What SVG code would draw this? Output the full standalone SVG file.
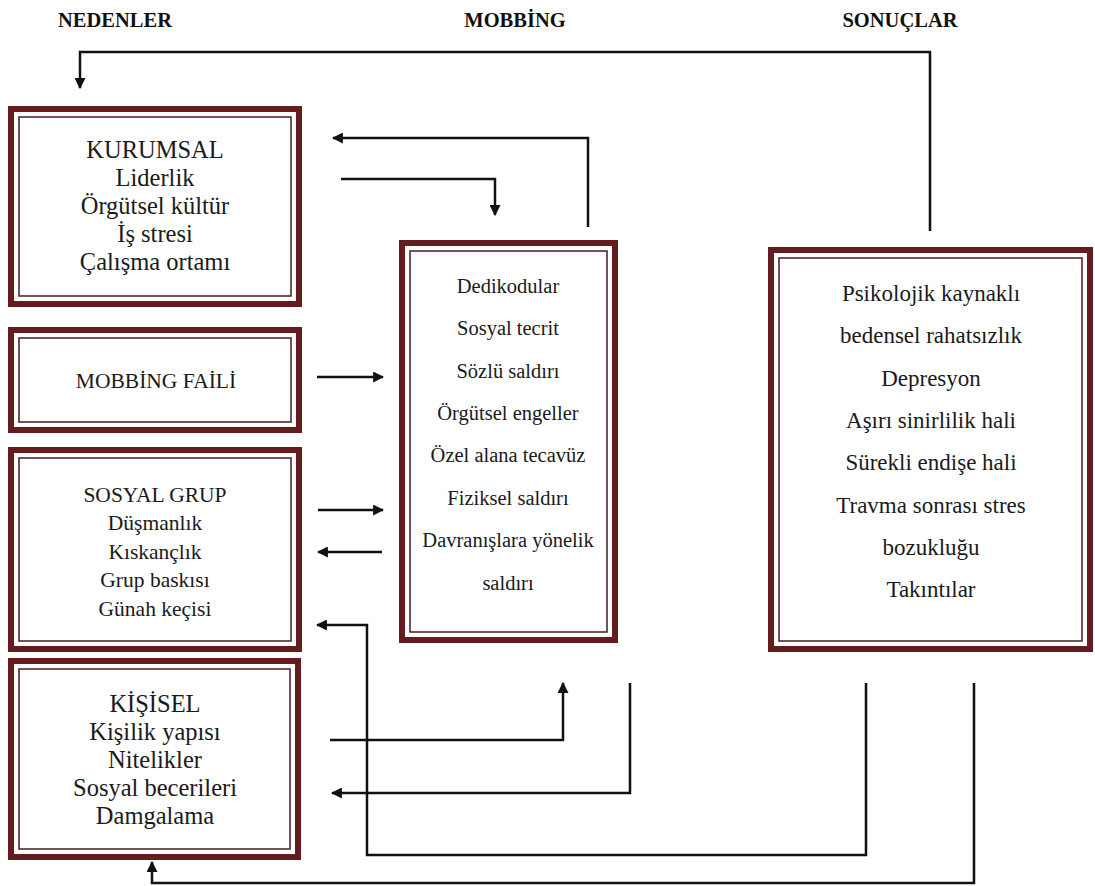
<svg xmlns="http://www.w3.org/2000/svg" width="1095" height="886" viewBox="0 0 1095 886">
<style>
.outer{fill:#fff;stroke:#641c1f;stroke-width:6}
.inner{fill:none;stroke:#4a1a1c;stroke-width:1.5}
.t{font-family:"Liberation Serif","Times New Roman",serif;font-size:21.5px;fill:#1a1a1a;text-anchor:middle}
.big{font-size:24.5px}
.mid{font-size:20.5px}
.rt{font-size:23px}
.h{font-family:"Liberation Serif","Times New Roman",serif;font-size:20.5px;font-weight:bold;fill:#111;text-anchor:middle}
.c{fill:none;stroke:#111;stroke-width:2.5;stroke-linejoin:miter}
</style>
<defs>
<marker id="ah" viewBox="0 0 10 10" refX="9" refY="5" markerWidth="11" markerHeight="11" markerUnits="userSpaceOnUse" orient="auto">
<path d="M0,0 L10,5 L0,10 z" fill="#111"/>
</marker>
</defs>
<rect width="1095" height="886" fill="#fff"/>
<g id="headers">
<text class="h" x="115" y="27">NEDENLER</text>
<text class="h" x="515" y="27">MOBBİNG</text>
<text class="h" x="900" y="27">SONUÇLAR</text>
</g>
<g id="kurumsal">
<rect class="outer" x="11" y="109" width="288" height="195"/>
<rect class="inner" x="19" y="117" width="272" height="179"/>
<text class="t big" x="155" y="158">KURUMSAL</text>
<text class="t big" x="155" y="186">Liderlik</text>
<text class="t big" x="155" y="214">Örgütsel kültür</text>
<text class="t big" x="155" y="242">İş stresi</text>
<text class="t big" x="155" y="270">Çalışma ortamı</text>
</g>
<g id="faili">
<rect class="outer" x="11" y="330" width="288" height="100"/>
<rect class="inner" x="19" y="338" width="272" height="84"/>
<text class="t" x="156" y="388">MOBBİNG FAİLİ</text>
</g>
<g id="sosyalgrup">
<rect class="outer" x="11" y="450" width="288" height="199"/>
<rect class="inner" x="19" y="458" width="272" height="183"/>
<text class="t" x="155" y="502">SOSYAL GRUP</text>
<text class="t" x="155" y="530">Düşmanlık</text>
<text class="t" x="155" y="559">Kıskançlık</text>
<text class="t" x="155" y="587">Grup baskısı</text>
<text class="t" x="155" y="616">Günah keçisi</text>
</g>
<g id="kisisel">
<rect class="outer" x="11" y="661" width="287" height="196"/>
<rect class="inner" x="19" y="669" width="271" height="180"/>
<text class="t big" x="155" y="712">KİŞİSEL</text>
<text class="t big" x="155" y="740">Kişilik yapısı</text>
<text class="t big" x="155" y="768">Nitelikler</text>
<text class="t big" x="155" y="796">Sosyal becerileri</text>
<text class="t big" x="155" y="824">Damgalama</text>
</g>
<g id="mobbing">
<rect class="outer" x="402" y="243" width="213" height="397"/>
<rect class="inner" x="410" y="251" width="197" height="381"/>
<text class="t mid" x="508" y="293">Dedikodular</text>
<text class="t mid" x="508" y="335">Sosyal tecrit</text>
<text class="t mid" x="508" y="378">Sözlü saldırı</text>
<text class="t mid" x="508" y="420">Örgütsel engeller</text>
<text class="t mid" x="508" y="462">Özel alana tecavüz</text>
<text class="t mid" x="508" y="505">Fiziksel saldırı</text>
<text class="t mid" x="508" y="547">Davranışlara yönelik</text>
<text class="t mid" x="508" y="590">saldırı</text>
</g>
<g id="sonuclar">
<rect class="outer" x="771" y="250" width="319" height="399"/>
<rect class="inner" x="779" y="258" width="303" height="383"/>
<text class="t rt" x="931" y="301">Psikolojik kaynaklı</text>
<text class="t rt" x="931" y="343">bedensel rahatsızlık</text>
<text class="t rt" x="931" y="386">Depresyon</text>
<text class="t rt" x="931" y="428">Aşırı sinirlilik hali</text>
<text class="t rt" x="931" y="470">Sürekli endişe hali</text>
<text class="t rt" x="931" y="513">Travma sonrası stres</text>
<text class="t rt" x="931" y="555">bozukluğu</text>
<text class="t rt" x="931" y="597">Takıntılar</text>
</g>
<g id="connectors">
<path class="c" d="M930,231 V52 H80 V88" marker-end="url(#ah)"/>
<path class="c" d="M588,227 V138 H333" marker-end="url(#ah)"/>
<path class="c" d="M341,179 H495 V215" marker-end="url(#ah)"/>
<path class="c" d="M317,377 H383" marker-end="url(#ah)"/>
<path class="c" d="M318,510 H383" marker-end="url(#ah)"/>
<path class="c" d="M382,552 H318" marker-end="url(#ah)"/>
<path class="c" d="M866,683 V855 H367 V625 H317" marker-end="url(#ah)"/>
<path class="c" d="M974,683 V883 H152 V862" marker-end="url(#ah)"/>
<path class="c" d="M330,740 H563 V683" marker-end="url(#ah)"/>
<path class="c" d="M630,683 V793 H332" marker-end="url(#ah)"/>
</g>
</svg>
